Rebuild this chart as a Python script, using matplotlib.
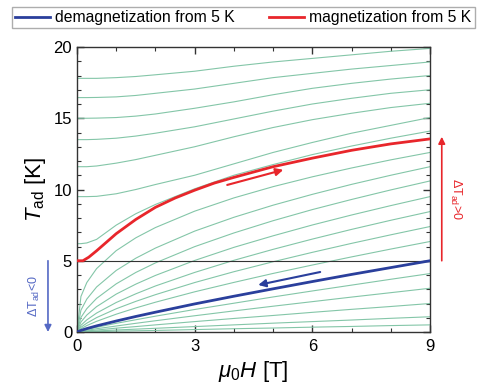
import matplotlib
matplotlib.use('Agg')
import matplotlib.pyplot as plt
from matplotlib.ticker import MultipleLocator

plt.rcParams['font.family'] = ['Liberation Sans', 'DejaVu Sans']
plt.rcParams['mathtext.fontset'] = 'custom'
plt.rcParams['mathtext.rm'] = 'Liberation Sans'
plt.rcParams['mathtext.it'] = 'Liberation Sans:italic'

# field grid (T)
H_grid = [0, 0.1, 0.25, 0.5, 1, 1.5, 2, 3, 4, 5, 6, 7, 8, 9]

# isentropes starting above 5 K
iso_178 = [17.8, 17.8, 17.8, 17.8, 17.85, 17.93, 18.05, 18.3, 18.65, 18.95, 19.2, 19.45, 19.7, 19.9]
iso_165 = [16.45, 16.45, 16.45, 16.46, 16.5, 16.6, 16.75, 17.05, 17.45, 17.85, 18.15, 18.45, 18.7, 18.95]
iso_150 = [15.0, 15.0, 15.0, 15.01, 15.05, 15.15, 15.3, 15.7, 16.15, 16.65, 17.1, 17.45, 17.75, 18.0]
iso_135 = [13.5, 13.5, 13.5, 13.52, 13.6, 13.75, 13.95, 14.4, 14.95, 15.5, 16.0, 16.4, 16.75, 17.0]
iso_116 = [11.6, 11.6, 11.6, 11.65, 11.85, 12.1, 12.4, 13.0, 13.7, 14.35, 14.9, 15.35, 15.75, 16.05]
iso_095 = [9.5, 9.5, 9.5, 9.52, 9.7, 10.0, 10.35, 11.0, 11.8, 12.6, 13.3, 13.95, 14.5, 15.05]
iso_062 = [6.2, 6.2, 6.25, 6.5, 7.5, 8.3, 8.95, 10.05, 11.0, 11.75, 12.45, 13.05, 13.6, 14.1]

# isentropes fanning out from the origin
fan_126 = [0, 2.49, 3.47, 4.45, 5.71, 6.61, 7.33, 8.48, 9.41, 10.2, 10.89, 11.51, 12.08, 12.6]
fan_116 = [0, 1.53, 2.31, 3.16, 4.32, 5.18, 5.89, 7.08, 8.05, 8.90, 9.66, 10.36, 11.0, 11.6]
fan_106 = [0, 1.02, 1.64, 2.36, 3.38, 4.18, 4.85, 5.99, 6.95, 7.81, 8.59, 9.30, 9.97, 10.6]
fan_095 = [0, 0.70, 1.19, 1.78, 2.66, 3.36, 3.97, 5.02, 5.94, 6.75, 7.51, 8.21, 8.87, 9.5]
fan_085 = [0, 0.47, 0.85, 1.33, 2.07, 2.68, 3.23, 4.18, 5.03, 5.80, 6.52, 7.20, 7.84, 8.45]
fan_074 = [0, 0.33, 0.62, 1.01, 1.63, 2.15, 2.62, 3.47, 4.23, 4.93, 5.59, 6.22, 6.82, 7.4]
fan_064 = [0, 0.23, 0.45, 0.75, 1.25, 1.69, 2.09, 2.82, 3.48, 4.11, 4.70, 5.27, 5.82, 6.35]
fan_050 = [0, 0.11, 0.24, 0.43, 0.77, 1.09, 1.39, 1.97, 2.51, 3.03, 3.54, 4.04, 4.52, 5.0]
fan_041 = [0, 0.08, 0.18, 0.33, 0.61, 0.86, 1.11, 1.58, 2.02, 2.46, 2.88, 3.29, 3.70, 4.1]
fan_031 = [0, 0.05, 0.12, 0.23, 0.42, 0.61, 0.79, 1.14, 1.48, 1.81, 2.13, 2.45, 2.76, 3.07]
fan_020 = [0, 0.03, 0.07, 0.14, 0.27, 0.38, 0.50, 0.73, 0.95, 1.16, 1.38, 1.59, 1.79, 2.0]
fan_011 = [0, 0.016, 0.04, 0.07, 0.14, 0.20, 0.26, 0.38, 0.50, 0.62, 0.73, 0.84, 0.96, 1.07]
fan_005 = [0, 0.006, 0.015, 0.03, 0.06, 0.085, 0.11, 0.17, 0.23, 0.28, 0.34, 0.39, 0.45, 0.5]

# highlighted processes
mag_H = [0, 0.15, 0.3, 0.5, 0.75, 1, 1.25, 1.5, 2, 2.5, 3, 3.5, 4, 5, 6, 7, 8, 9]
magnetization = [5.0, 5.0, 5.25, 5.7, 6.3, 6.9, 7.4, 7.9, 8.75, 9.4, 9.95, 10.45, 10.85, 11.6, 12.2, 12.75, 13.2, 13.55]
demagnetization = fan_050

legend_labels = ['demagnetization from 5 K', 'magnetization from 5 K']
x_ticks = [0, 3, 6, 9]
y_ticks = [0, 5, 10, 15, 20]

GREEN = '#84c6a8'
RED = '#e8262b'
BLUE = '#2a3f9c'
LBLUE = '#5569c4'

fig = plt.figure(figsize=(4.83, 3.91), dpi=100)
ax = fig.add_axes([77/483, 1-332/391, (430-77)/483, (332-47)/391])

greens = [iso_178, iso_165, iso_150, iso_135, iso_116, iso_095, iso_062,
          fan_126, fan_116, fan_106, fan_095, fan_085, fan_074, fan_064,
          fan_050, fan_041, fan_031, fan_020, fan_011, fan_005]
for g in greens:
    ax.plot(H_grid, g, color=GREEN, lw=0.8, zorder=2)

ax.axhline(5, color='#333333', lw=0.8, zorder=3)
lb, = ax.plot(H_grid, demagnetization, color=BLUE, lw=2.0, zorder=4, label=legend_labels[0])
lr, = ax.plot(mag_H, magnetization, color=RED, lw=2.0, zorder=4, label=legend_labels[1])

# direction arrows along curves
ax.annotate('', xy=(5.26, 11.38), xytext=(3.83, 10.32),
            arrowprops=dict(arrowstyle='-|>', color=RED, lw=1.5, mutation_scale=11, shrinkA=0, shrinkB=0))
ax.annotate('', xy=(4.62, 3.3), xytext=(6.2, 4.21),
            arrowprops=dict(arrowstyle='-|>', color=BLUE, lw=1.5, mutation_scale=11, shrinkA=0, shrinkB=0))

# side arrows
ax.annotate('', xy=(9.30, 13.7), xytext=(9.30, 5.0), annotation_clip=False,
            arrowprops=dict(arrowstyle='-|>', color=RED, lw=1.2, mutation_scale=10, shrinkA=0, shrinkB=0))
ax.text(9.66, 9.3, r'$\mathrm{\Delta T_{ad}}$>0', color=RED, rotation=-90, fontsize=9,
        ha='center', va='center', clip_on=False)
ax.annotate('', xy=(-0.74, 0.0), xytext=(-0.74, 5.0), annotation_clip=False,
            arrowprops=dict(arrowstyle='-|>', color=LBLUE, lw=1.2, mutation_scale=10, shrinkA=0, shrinkB=0))
ax.text(-1.08, 2.5, r'$\mathrm{\Delta T_{ad}}$<0', color=LBLUE, rotation=90, fontsize=9,
        ha='center', va='center', clip_on=False)

ax.set_xlim(0, 9)
ax.set_ylim(0, 20)
ax.set_xticks(x_ticks)
ax.set_yticks(y_ticks)
ax.xaxis.set_minor_locator(MultipleLocator(1))
ax.yaxis.set_minor_locator(MultipleLocator(1))
ax.tick_params(which='both', direction='in', top=True, right=True, labelsize=12, color='#333333')
ax.tick_params(which='major', length=5, width=1)
ax.tick_params(which='minor', length=3, width=0.8)
ax.tick_params(axis='x', pad=5)
for s in ax.spines.values():
    s.set_color('#333333')
    s.set_linewidth(1.0)

ax.set_xlabel(r'$\mu_0H$ [T]', fontsize=16, labelpad=4)
ax.set_ylabel(r'$T_{\mathrm{ad}}$ [K]', fontsize=16, labelpad=4)

fig.legend(handles=[lb, lr], labels=legend_labels, loc='upper left',
           bbox_to_anchor=(12/483, 1-7/391), ncol=2, fontsize=11.3,
           handlelength=2.2, handletextpad=0.35, columnspacing=2.2,
           frameon=True, fancybox=False, edgecolor='#999999', borderpad=0.2,
           borderaxespad=0)

fig.savefig('out.png', dpi=100)
